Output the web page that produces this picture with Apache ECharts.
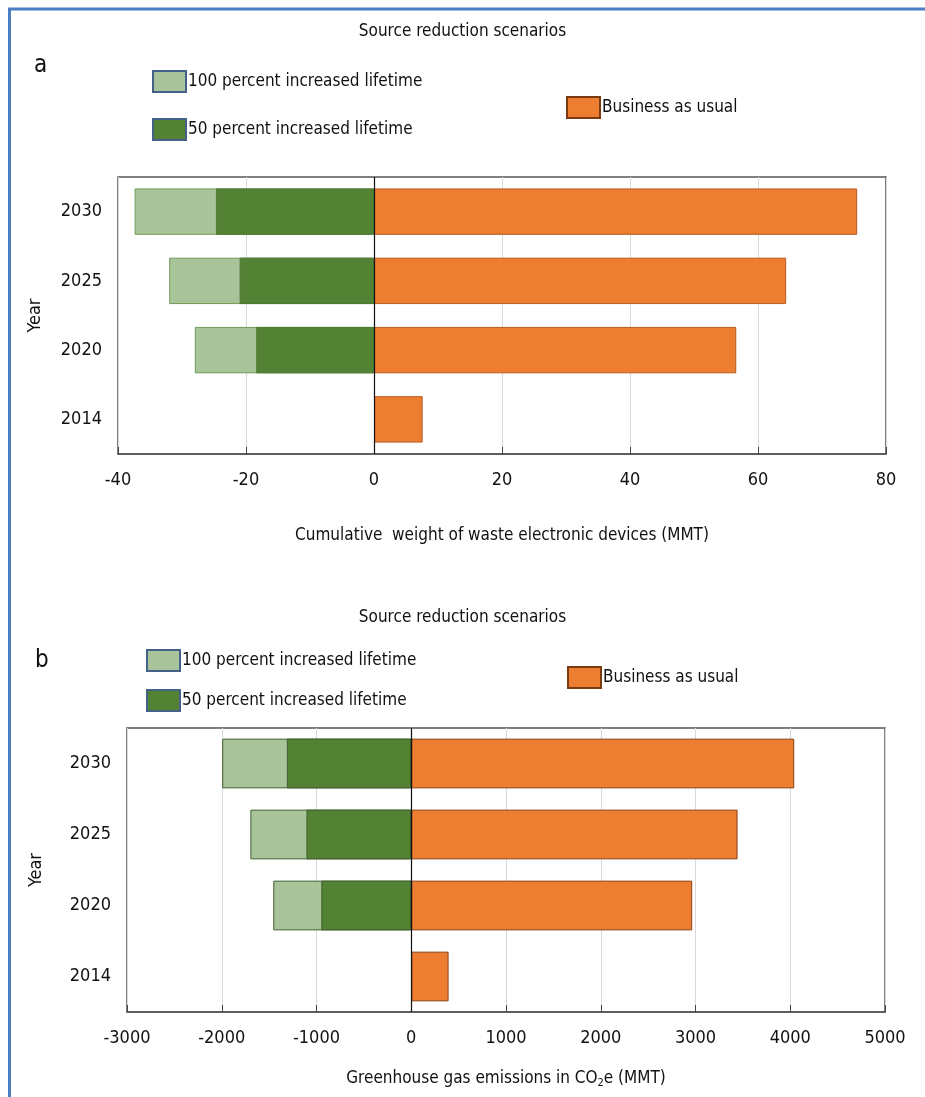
<!DOCTYPE html>
<html>
<head>
<meta charset="utf-8">
<script src="https://cdn.jsdelivr.net/npm/echarts@6/dist/echarts.min.js"></script>
<style>html,body{margin:0;padding:0;background:#fff}#c{width:925px;height:1097px}</style>
</head>
<body>
<div id="c"></div>
<script>
var years = ['2014', '2020', '2025', '2030'];
var weightBAU = [7.6, 56.6, 64.4, 75.5];
var weight50 = [null, -18.4, -21.0, -24.7];
var weight100 = [null, -28.0, -32.0, -37.4];
var ghgBAU = [394, 2965, 3444, 4042];
var ghg50 = [null, -949, -1106, -1313];
var ghg100 = [null, -1456, -1698, -1995];
var names = ['100 percent increased lifetime', '50 percent increased lifetime', 'Business as usual'];

var FONT = "'Liberation Sans Narrow', 'DejaVu Sans Condensed', 'Arial Narrow', sans-serif";
var LIGHT = '#a9c49b', DARK = '#548235', ORANGE = '#ed7d31';

var chart = echarts.init(document.getElementById('c'));

function xAxisDef(idx, min, max, interval, name, nameGap) {
  return {
    type: 'value', gridIndex: idx, min: min, max: max, interval: interval,
    name: name, nameLocation: 'middle', nameGap: nameGap,
    nameTextStyle: { fontFamily: FONT, fontSize: 17, color: '#111',
      rich: { n: { fontFamily: FONT, fontSize: 17, color: '#111' },
              s: { fontFamily: FONT, fontSize: 11, color: '#111', padding: [9, 0, 0, 0] } } },
    axisLine: { show: true, lineStyle: { color: '#555', width: 1.5 } },
    axisTick: { show: true, inside: true, length: 7, lineStyle: { color: '#444' } },
    axisLabel: { fontFamily: FONT, fontSize: 18, color: '#111', margin: 17,
      formatter: function (v) { return String(v); } },
    splitLine: { show: true, lineStyle: { color: '#d9d9d9', width: 1 } }
  };
}
function yAxisDef(idx, nameGap) {
  return {
    type: 'category', gridIndex: idx, data: years,
    name: 'Year', nameLocation: 'middle', nameGap: nameGap, nameRotate: 90,
    nameTextStyle: { fontFamily: FONT, fontSize: 18, color: '#111' },
    axisLine: { show: false }, axisTick: { show: false },
    axisLabel: { fontFamily: FONT, fontSize: 18, color: '#111', margin: 16 },
    splitLine: { show: false }
  };
}
function barSeries(idx, name, data, color, border, gapPct, withZero) {
  var s = {
    type: 'bar', name: name, xAxisIndex: idx, yAxisIndex: idx, data: data,
    barGap: '-100%', barCategoryGap: gapPct,
    itemStyle: { color: color, borderColor: border, borderWidth: 1 },
    emphasis: { disabled: true }, animation: false
  };
  if (withZero) {
    s.markLine = { silent: true, symbol: 'none', label: { show: false },
      lineStyle: { color: '#111', width: 1.2, type: 'solid' },
      data: [{ xAxis: 0 }], animation: false };
  }
  return s;
}
function legendDef(left, top, data, gap) {
  return {
    left: left, top: top, orient: 'vertical', data: data, itemGap: gap, padding: 0,
    itemWidth: 33, itemHeight: 21, icon: 'rect', selectedMode: false,
    textStyle: { fontFamily: FONT, fontSize: 17, color: '#111', padding: [0, 0, 0, -3] }
  };
}

var option = {
  backgroundColor: '#fff',
  animation: false,
  grid: [
    { left: 118, right: 39, top: 177, height: 277, show: true, borderColor: '#555', borderWidth: 1.5, backgroundColor: 'transparent' },
    { left: 127, right: 40, top: 728, height: 284, show: true, borderColor: '#555', borderWidth: 1.5, backgroundColor: 'transparent' }
  ],
  xAxis: [
    xAxisDef(0, -40, 80, 20, 'Cumulative  weight of waste electronic devices (MMT)', 73),
    xAxisDef(1, -3000, 5000, 1000, '{n|Greenhouse gas emissions in CO}{s|2}{n|e (MMT)}', 57)
  ],
  yAxis: [yAxisDef(0, 74), yAxisDef(1, 82)],
  legend: [
    legendDef(152, 70, [
      { name: names[0], itemStyle: { color: LIGHT, borderColor: '#44618a', borderWidth: 2 } },
      { name: names[1], itemStyle: { color: DARK, borderColor: '#44618a', borderWidth: 2 } }
    ], 25),
    legendDef(566, 96, [
      { name: names[2], itemStyle: { color: ORANGE, borderColor: '#7a3a12', borderWidth: 2 } }
    ], 10),
    legendDef(146, 649, [
      { name: names[0], itemStyle: { color: LIGHT, borderColor: '#44618a', borderWidth: 2 } },
      { name: names[1], itemStyle: { color: DARK, borderColor: '#44618a', borderWidth: 2 } }
    ], 17),
    legendDef(567, 666, [
      { name: names[2], itemStyle: { color: ORANGE, borderColor: '#7a3a12', borderWidth: 2 } }
    ], 10)
  ],
  series: [
    barSeries(0, names[0], weight100, LIGHT, '#6f9a58', '33%', false),
    barSeries(0, names[1], weight50, DARK, '#4d7a32', '33%', false),
    barSeries(0, names[2], weightBAU, ORANGE, '#b85a1e', '33%', true),
    barSeries(1, names[0], ghg100, LIGHT, '#3f5e2c', '30%', false),
    barSeries(1, names[1], ghg50, DARK, '#3f5e2c', '30%', false),
    barSeries(1, names[2], ghgBAU, ORANGE, '#8a3f12', '30%', true)
  ],
  graphic: [
    { type: 'rect', silent: true, shape: { x: 9.5, y: 9, width: 940, height: 1120 },
      style: { fill: 'none', stroke: '#4a7fc4', lineWidth: 3 } },
    { type: 'text', left: 'center', top: 23, silent: true,
      style: { text: 'Source reduction scenarios', fontFamily: FONT, fontSize: 17, fill: '#111' } },
    { type: 'text', left: 'center', top: 609, silent: true,
      style: { text: 'Source reduction scenarios', fontFamily: FONT, fontSize: 17, fill: '#111' } },
    { type: 'text', left: 34, top: 54, silent: true,
      style: { text: 'a', fontFamily: FONT, fontSize: 24, fill: '#111' } },
    { type: 'text', left: 35, top: 649, silent: true,
      style: { text: 'b', fontFamily: FONT, fontSize: 24, fill: '#111' } }
  ]
};
chart.setOption(option);
</script>
</body>
</html>
